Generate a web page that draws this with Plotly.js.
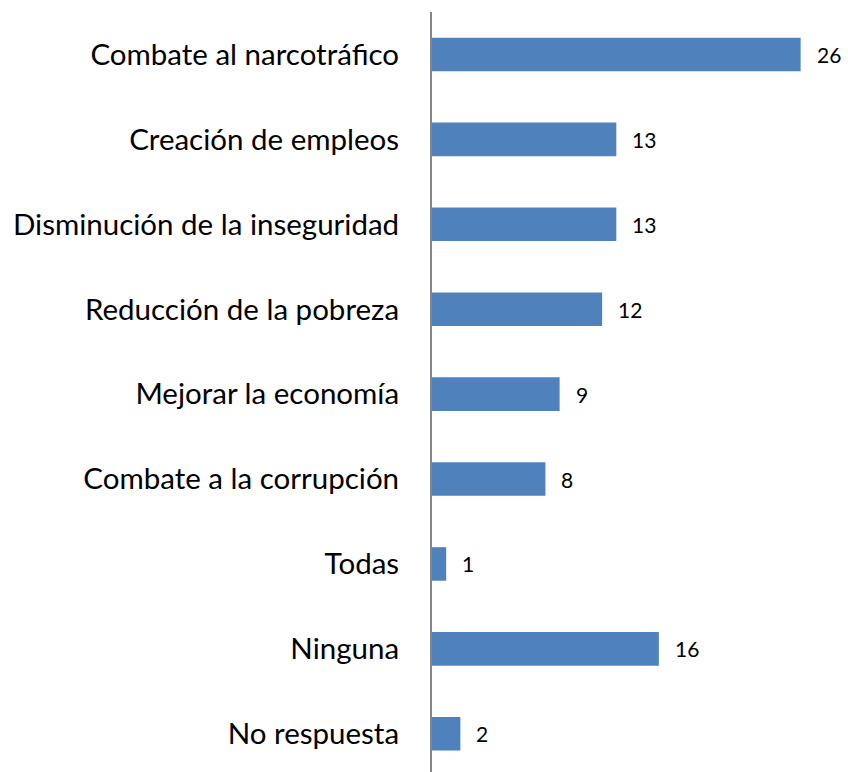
<!DOCTYPE html>
<html>
<head>
<meta charset="utf-8">
<script src="https://cdn.plot.ly/plotly-3.0.1.min.js"></script>
<style>html,body{margin:0;padding:0;background:#fff;}#chart{width:848px;height:772px;}</style>
</head>
<body>
<div id="chart"></div>
<script>
var categories = [
  "Combate al narcotráfico",
  "Creación de empleos",
  "Disminución de la inseguridad",
  "Reducción de la pobreza",
  "Mejorar la economía",
  "Combate a la corrupción",
  "Todas",
  "Ninguna",
  "No respuesta"
];
var values = [26, 13, 13, 12, 9, 8, 1, 16, 2];

var FONT = "Lato, 'Open Sans', sans-serif";

var trace = {
  type: "bar",
  orientation: "h",
  x: values,
  y: categories,
  marker: {color: "#4f81bd", line: {width: 0}},
  width: 0.395,
  hoverinfo: "none"
};

var annotations = values.map(function (v, i) {
  return {
    x: v, y: categories[i], xref: "x", yref: "y",
    text: String(v), showarrow: false,
    xanchor: "left", yanchor: "middle", xshift: 14,
    font: {family: FONT, size: 21, color: "#000"}
  };
});

var layout = {
  width: 848, height: 772,
  margin: {l: 432, r: 0, t: 12, b: 0},
  paper_bgcolor: "#fff", plot_bgcolor: "#fff",
  showlegend: false,
  xaxis: {range: [0, 29.34], visible: false, showgrid: false, zeroline: false},
  yaxis: {
    type: "category",
    range: [8.45, -0.5],
    showline: true, linecolor: "#868686", linewidth: 2,
    showgrid: false, zeroline: false,
    ticks: "", ticklabelstandoff: 25,
    tickfont: {family: FONT, size: 29.5, color: "#000"}
  },
  annotations: annotations
};

Plotly.newPlot("chart", [trace], layout, {displayModeBar: false, staticPlot: true});
</script>
</body>
</html>
